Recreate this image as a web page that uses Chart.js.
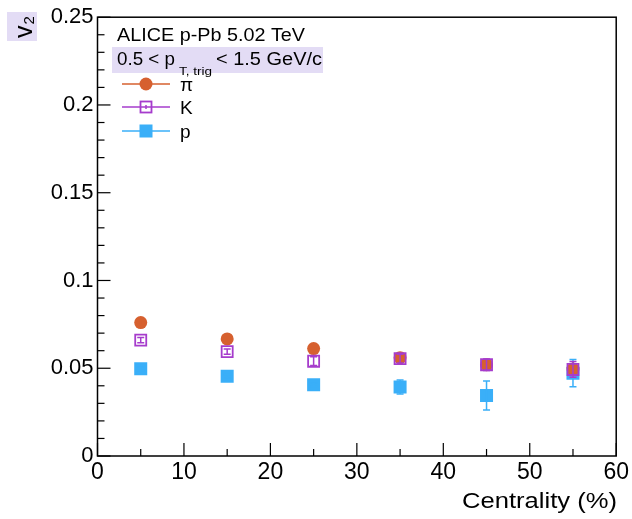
<!DOCTYPE html>
<html>
<head>
<meta charset="utf-8">
<script src="https://cdn.jsdelivr.net/npm/chart.js@4.4.0/dist/chart.umd.min.js"></script>
<style>
html,body{margin:0;padding:0;background:#fff;}
canvas{display:block;}
</style>
</head>
<body>
<canvas id="c" width="632" height="519"></canvas>
<script>
// ---- data ----
const centrality = [5, 15, 25, 35, 45, 55];
const piV2  = [0.0760, 0.0667, 0.0612, 0.0560, 0.0520, 0.0495];
const piErr = [0.0010, 0.0010, 0.0010, 0.0015, 0.0020, 0.0025];
const kV2   = [0.0660, 0.0595, 0.0540, 0.0555, 0.0520, 0.0493];
const kErr  = [0.0015, 0.0015, 0.0025, 0.0025, 0.0033, 0.0045];
const pV2   = [0.0497, 0.0455, 0.0406, 0.0393, 0.0345, 0.0472];
const pErr  = [0.0010, 0.0010, 0.0010, 0.0040, 0.0083, 0.0078];
const xTicks = [0, 10, 20, 30, 40, 50, 60];
const yTicks = [0, 0.05, 0.1, 0.15, 0.2, 0.25];
const seriesNames = ['\u03C0', 'K', 'p'];

const FONT = '"Liberation Sans", Arial, Helvetica, sans-serif';
const C_PI = '#d6602f', C_K = '#a63ccc', C_P = '#3aaff8', LAV = 'rgba(226,218,244,0.95)';

function pts(xs, ys){ return xs.map((x,i)=>({x:x, y:ys[i]})); }

function fitText(ctx, text, x, y, w){
  const m = ctx.measureText(text).width;
  ctx.save(); ctx.translate(x, y); ctx.scale(w / m, 1); ctx.fillText(text, 0, 0); ctx.restore();
}

function drawMarker(ctx, kind, x, y){
  ctx.save();
  if (kind === 0){ ctx.fillStyle = C_PI; ctx.beginPath(); ctx.arc(x, y, 6.5, 0, Math.PI*2); ctx.fill(); }
  else if (kind === 1){ ctx.strokeStyle = C_K; ctx.lineWidth = 1.8; ctx.strokeRect(x-5.5, y-5.5, 11, 11); }
  else { ctx.fillStyle = C_P; ctx.fillRect(x-6.5, y-6.5, 13, 13); }
  ctx.restore();
}

const errs = [piErr, kErr, pErr];
const cols = [C_PI, C_K, C_P];

const rootPlugin = {
  id: 'rootStyle',
  beforeDraw(chart){
    const ctx = chart.ctx;
    ctx.save();
    ctx.fillStyle = LAV;
    ctx.fillRect(112, 47, 211, 26);
    ctx.fillRect(7, 12, 30, 29);
    ctx.restore();
  },
  afterDatasetDraw(chart, args){
    const ds = chart.data.datasets[args.index];
    const k = ds.kind;
    const e = errs[k];
    const xs = chart.scales.x, ys = chart.scales.y;
    const ctx = chart.ctx;
    ctx.save();
    ctx.strokeStyle = cols[k];
    ctx.lineWidth = 1.5;
    ds.data.forEach((d, i) => {
      const px = xs.getPixelForValue(d.x);
      const y1 = ys.getPixelForValue(d.y + e[i]);
      const y2 = ys.getPixelForValue(d.y - e[i]);
      ctx.beginPath();
      ctx.moveTo(px, y1); ctx.lineTo(px, y2);
      ctx.moveTo(px-3.5, y1); ctx.lineTo(px+3.5, y1);
      ctx.moveTo(px-3.5, y2); ctx.lineTo(px+3.5, y2);
      ctx.stroke();
    });
    ctx.restore();
  },
  afterDraw(chart){
    const ctx = chart.ctx, a = chart.chartArea;
    const xs = chart.scales.x, ys = chart.scales.y;
    ctx.save();
    // frame
    ctx.strokeStyle = '#000'; ctx.lineWidth = 1.5;
    ctx.strokeRect(a.left, a.top, a.right - a.left, a.bottom - a.top);
    // ticks (inward)
    ctx.lineWidth = 1.2;
    for (let i = 0; i <= 25; i++){
      const v = i / 100;
      const py = ys.getPixelForValue(v);
      const len = (i % 5 === 0) ? 13 : 7;
      ctx.beginPath(); ctx.moveTo(a.left, py); ctx.lineTo(a.left + len, py); ctx.stroke();
    }
    for (let v = 0; v <= 60; v += 5){
      const px = xs.getPixelForValue(v);
      const len = (v % 10 === 0) ? 13 : 7;
      ctx.beginPath(); ctx.moveTo(px, a.bottom); ctx.lineTo(px, a.bottom - len); ctx.stroke();
    }
    // texts
    ctx.fillStyle = '#000';
    ctx.textBaseline = 'alphabetic';
    ctx.textAlign = 'left';
    ctx.font = '18px ' + FONT;
    fitText(ctx, 'ALICE p-Pb 5.02 TeV', 117, 41, 188);
    fitText(ctx, '0.5 < p', 117, 65, 58);
    fitText(ctx, '< 1.5 GeV/c', 216, 65, 106);
    ctx.font = '11px ' + FONT;
    fitText(ctx, 'T, trig', 179, 75, 33);
    // legend
    const ly = [84, 107, 131];
    for (let k = 0; k < 3; k++){
      ctx.strokeStyle = cols[k]; ctx.lineWidth = 1.5;
      ctx.beginPath(); ctx.moveTo(122, ly[k]); ctx.lineTo(170, ly[k]); ctx.stroke();
      if (k > 0){
        ctx.beginPath(); ctx.moveTo(146, ly[k]-2); ctx.lineTo(146, ly[k]+2); ctx.stroke();
      }
      drawMarker(ctx, k, 146, ly[k]);
      ctx.fillStyle = '#000';
      ctx.font = '19px ' + FONT;
      ctx.fillText(seriesNames[k], 180, ly[k] + 7);
    }
    // x title
    ctx.font = '22px ' + FONT;
    fitText(ctx, 'Centrality (%)', 462, 508, 155);
    // y title v2 (rotated)
    ctx.save();
    ctx.translate(32, 38);
    ctx.rotate(-Math.PI/2);
    ctx.font = '25px ' + FONT;
    ctx.fillText('v', 0, 0);
    const vw = ctx.measureText('v').width;
    ctx.font = '15px ' + FONT;
    ctx.fillText('2', vw + 1, 2);
    ctx.restore();
    ctx.restore();
  }
};

new Chart(document.getElementById('c'), {
  type: 'scatter',
  data: {
    datasets: [
      { label: seriesNames[0], kind: 0, order: 1, data: pts(centrality, piV2),
        pointStyle: 'circle', pointRadius: 6.5, backgroundColor: C_PI, borderColor: C_PI, borderWidth: 0 },
      { label: seriesNames[1], kind: 1, order: 0, data: pts(centrality, kV2),
        pointStyle: 'rect', pointRadius: 7.8, backgroundColor: 'rgba(0,0,0,0)', borderColor: C_K, borderWidth: 1.8 },
      { label: seriesNames[2], kind: 2, order: 2, data: pts(centrality, pV2),
        pointStyle: 'rect', pointRadius: 9.2, backgroundColor: C_P, borderColor: C_P, borderWidth: 0 }
    ]
  },
  options: {
    responsive: false,
    animation: false,
    layout: { padding: { top: 15, right: 13, left: 0, bottom: 0 } },
    plugins: { legend: { display: false }, tooltip: { enabled: false } },
    scales: {
      x: {
        type: 'linear', min: 0, max: 60,
        afterBuildTicks: s => { s.ticks = xTicks.map(v => ({ value: v })); },
        afterFit: s => { s.height = 63; },
        grid: { display: false, drawTicks: false },
        border: { display: false },
        ticks: { color: '#000', font: { family: FONT, size: 23 }, padding: 3, maxRotation: 0, autoSkip: false }
      },
      y: {
        type: 'linear', min: 0, max: 0.25,
        afterBuildTicks: s => { s.ticks = yTicks.map(v => ({ value: v })); },
        afterFit: s => { s.width = 97.5; },
        grid: { display: false, drawTicks: false },
        border: { display: false },
        ticks: { color: '#000', font: { family: FONT, size: 22 }, padding: 4, autoSkip: false,
          callback: v => String(Math.round(v * 100) / 100) }
      }
    }
  },
  plugins: [rootPlugin]
});
</script>
</body>
</html>
